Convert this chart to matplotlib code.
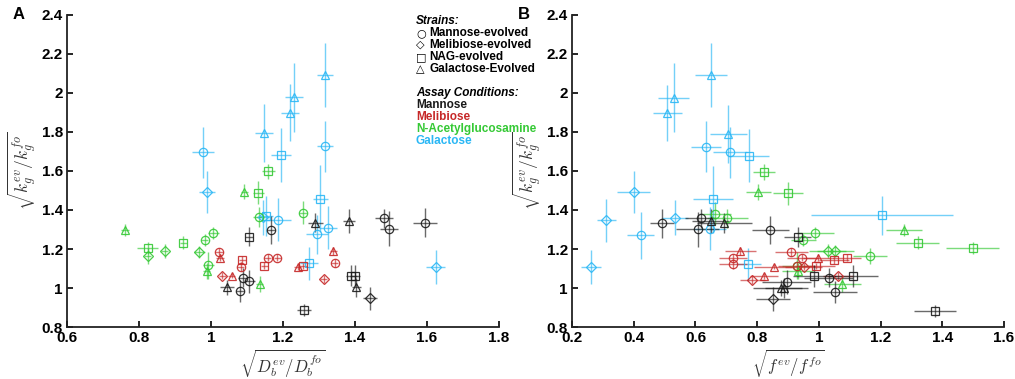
import matplotlib

matplotlib.use("Agg")
import matplotlib.pyplot as plt
from matplotlib.colors import to_rgba

plt.rcParams["font.family"] = ["Liberation Sans", "DejaVu Sans"]
plt.rcParams["mathtext.fontset"] = "cm"

# (strain, x, y, xerr, yerr); strain: M=mannose, L=melibiose, N=NAG, G=galactose evolved
A_GAL = [
    ("M", 0.977, 1.696, 0.030, 0.130), ("L", 0.988, 1.492, 0.022, 0.110),
    ("G", 1.147, 1.795, 0.025, 0.147), ("G", 1.219, 1.898, 0.025, 0.145),
    ("G", 1.231, 1.977, 0.025, 0.177), ("G", 1.317, 2.093, 0.022, 0.164),
    ("M", 1.317, 1.727, 0.022, 0.130), ("N", 1.194, 1.681, 0.027, 0.137),
    ("N", 1.304, 1.458, 0.022, 0.170), ("N", 1.152, 1.369, 0.020, 0.100),
    ("L", 1.145, 1.362, 0.020, 0.090), ("M", 1.187, 1.349, 0.035, 0.110),
    ("M", 1.294, 1.275, 0.030, 0.100), ("M", 1.326, 1.310, 0.025, 0.110),
    ("N", 1.273, 1.126, 0.025, 0.085), ("L", 1.624, 1.110, 0.026, 0.087),
]
A_NAG = [
    ("G", 0.761, 1.297, 0.010, 0.030), ("N", 0.824, 1.204, 0.030, 0.030),
    ("L", 0.824, 1.165, 0.010, 0.040), ("L", 0.871, 1.189, 0.010, 0.035),
    ("N", 0.923, 1.233, 0.010, 0.035), ("L", 0.967, 1.185, 0.015, 0.030),
    ("M", 0.983, 1.245, 0.010, 0.030), ("M", 1.006, 1.281, 0.015, 0.030),
    ("M", 0.992, 1.117, 0.015, 0.070), ("G", 0.988, 1.088, 0.010, 0.040),
    ("G", 1.092, 1.494, 0.010, 0.040), ("N", 1.131, 1.489, 0.015, 0.060),
    ("N", 1.159, 1.598, 0.018, 0.040), ("M", 1.133, 1.364, 0.015, 0.050),
    ("M", 1.256, 1.386, 0.012, 0.060), ("G", 1.135, 1.020, 0.010, 0.040),
]
A_MEL = [
    ("M", 1.022, 1.187, 0.010, 0.020), ("G", 1.025, 1.156, 0.012, 0.020),
    ("N", 1.087, 1.144, 0.010, 0.020), ("M", 1.083, 1.110, 0.010, 0.025),
    ("L", 1.031, 1.064, 0.010, 0.020), ("G", 1.058, 1.064, 0.010, 0.015),
    ("N", 1.148, 1.115, 0.010, 0.020), ("M", 1.158, 1.156, 0.010, 0.020),
    ("M", 1.184, 1.156, 0.010, 0.020), ("G", 1.241, 1.108, 0.010, 0.015),
    ("N", 1.256, 1.113, 0.010, 0.015), ("L", 1.313, 1.047, 0.010, 0.020),
    ("G", 1.340, 1.190, 0.010, 0.020), ("M", 1.344, 1.127, 0.010, 0.020),
]
A_MAN = [
    ("N", 1.106, 1.264, 0.012, 0.050), ("M", 1.167, 1.297, 0.012, 0.070),
    ("G", 1.290, 1.335, 0.020, 0.050), ("G", 1.384, 1.343, 0.017, 0.063),
    ("M", 1.481, 1.357, 0.025, 0.050), ("M", 1.494, 1.305, 0.025, 0.090),
    ("M", 1.595, 1.335, 0.033, 0.075), ("M", 1.088, 1.054, 0.012, 0.050),
    ("G", 1.045, 1.003, 0.020, 0.040), ("M", 1.081, 0.983, 0.012, 0.057),
    ("M", 1.106, 1.034, 0.015, 0.060), ("N", 1.390, 1.064, 0.015, 0.056),
    ("N", 1.400, 1.064, 0.015, 0.056), ("G", 1.404, 1.003, 0.012, 0.050),
    ("L", 1.441, 0.947, 0.020, 0.060), ("N", 1.259, 0.889, 0.020, 0.030),
]

B_GAL = [
    ("G", 0.650, 2.090, 0.052, 0.164), ("G", 0.529, 1.976, 0.049, 0.177),
    ("G", 0.509, 1.896, 0.046, 0.145), ("G", 0.706, 1.790, 0.060, 0.147),
    ("M", 0.634, 1.725, 0.050, 0.130), ("M", 0.711, 1.695, 0.055, 0.130),
    ("N", 0.773, 1.678, 0.065, 0.137), ("L", 0.400, 1.492, 0.054, 0.110),
    ("N", 0.657, 1.454, 0.065, 0.170), ("N", 1.203, 1.373, 0.230, 0.100),
    ("L", 0.533, 1.361, 0.043, 0.090), ("L", 0.311, 1.347, 0.030, 0.110),
    ("M", 0.646, 1.305, 0.052, 0.110), ("M", 0.422, 1.270, 0.045, 0.120),
    ("N", 0.771, 1.122, 0.040, 0.085), ("L", 0.261, 1.108, 0.032, 0.087),
]
B_NAG = [
    ("N", 0.823, 1.596, 0.036, 0.040), ("N", 0.900, 1.485, 0.050, 0.060),
    ("G", 0.804, 1.492, 0.040, 0.040), ("M", 0.664, 1.381, 0.050, 0.060),
    ("M", 0.703, 1.357, 0.067, 0.050), ("G", 1.275, 1.296, 0.058, 0.030),
    ("M", 0.988, 1.281, 0.060, 0.030), ("M", 0.950, 1.245, 0.040, 0.030),
    ("N", 1.320, 1.233, 0.070, 0.035), ("N", 1.498, 1.204, 0.085, 0.030),
    ("L", 1.028, 1.190, 0.060, 0.035), ("L", 1.053, 1.190, 0.060, 0.030),
    ("M", 1.165, 1.164, 0.055, 0.040), ("M", 0.930, 1.114, 0.050, 0.070),
    ("G", 0.931, 1.088, 0.050, 0.040), ("G", 1.075, 1.020, 0.060, 0.040),
]
B_MEL = [
    ("G", 0.745, 1.190, 0.050, 0.020), ("M", 0.722, 1.156, 0.045, 0.020),
    ("M", 0.722, 1.122, 0.045, 0.025), ("L", 0.784, 1.042, 0.040, 0.020),
    ("G", 0.823, 1.062, 0.045, 0.015), ("M", 0.911, 1.185, 0.054, 0.020),
    ("M", 0.946, 1.156, 0.050, 0.020), ("G", 0.998, 1.156, 0.050, 0.020),
    ("N", 1.049, 1.144, 0.050, 0.020), ("N", 1.092, 1.156, 0.045, 0.020),
    ("G", 0.854, 1.110, 0.065, 0.015), ("M", 0.928, 1.113, 0.060, 0.020),
    ("L", 0.951, 1.110, 0.060, 0.020), ("N", 0.992, 1.113, 0.060, 0.015),
    ("L", 1.062, 1.062, 0.050, 0.020),
]
B_MAN = [
    ("M", 0.491, 1.332, 0.040, 0.075), ("M", 0.607, 1.301, 0.070, 0.090),
    ("M", 0.617, 1.357, 0.050, 0.050), ("G", 0.649, 1.343, 0.060, 0.063),
    ("G", 0.694, 1.332, 0.088, 0.050), ("M", 0.843, 1.297, 0.060, 0.070),
    ("N", 0.931, 1.262, 0.043, 0.050), ("N", 0.985, 1.062, 0.070, 0.056),
    ("M", 1.032, 1.054, 0.080, 0.050), ("N", 1.111, 1.062, 0.080, 0.056),
    ("M", 0.895, 1.032, 0.080, 0.060), ("G", 0.876, 1.000, 0.090, 0.040),
    ("G", 0.886, 1.000, 0.060, 0.050), ("M", 1.052, 0.980, 0.070, 0.057),
    ("L", 0.852, 0.943, 0.055, 0.060), ("N", 1.376, 0.883, 0.067, 0.030),
]

MARKERS = {"M": ("o", 6.0), "L": ("D", 4.6), "N": ("s", 5.2), "G": ("^", 6.2)}
COLORS = {"man": "#1a1a1a", "mel": "#c62828", "nag": "#35c935", "gal": "#2ab7f5"}


def draw_panel(ax, groups, xlim, xticks, xlabel, letter):
    for cond, pts in groups:
        c = COLORS[cond]
        for strain, x, y, xe, ye in pts:
            mk, ms = MARKERS[strain]
            ax.errorbar(x, y, xerr=xe, yerr=ye, fmt=mk, ms=ms, mfc="none",
                        mec=to_rgba(c, 0.9), mew=0.9, ecolor=to_rgba(c, 0.65),
                        elinewidth=1.0, capsize=0)
    ax.set_xlim(*xlim)
    ax.set_ylim(0.8, 2.4)
    ax.set_xticks(xticks)
    ax.set_xticklabels([f"{t:g}" for t in xticks])
    ax.set_yticks([0.8, 1, 1.2, 1.4, 1.6, 1.8, 2, 2.2, 2.4])
    ax.set_yticklabels(["0.8", "1", "1.2", "1.4", "1.6", "1.8", "2", "2.2", "2.4"])
    for side in ("top", "right"):
        ax.spines[side].set_visible(False)
    for side in ("left", "bottom"):
        ax.spines[side].set_linewidth(1.3)
        ax.spines[side].set_color("#222222")
    ax.tick_params(direction="in", length=4, width=1.2, labelsize=11, pad=3)
    for lab in ax.get_xticklabels() + ax.get_yticklabels():
        lab.set_fontweight("bold")
    ax.set_xlabel(xlabel, fontsize=12, color="#333333", labelpad=1)
    ax.set_ylabel(r"$\sqrt{k_g^{ev}/k_g^{fo}}$", fontsize=12.5, color="#333333", labelpad=2)
    ax.text(-0.125, 1.0, letter, transform=ax.transAxes, fontsize=12, fontweight="bold",
            ha="left", va="center")


fig = plt.figure(figsize=(10.15, 3.79), dpi=100)
axA = fig.add_axes([0.066, 0.137, 0.4256, 0.824])
axB = fig.add_axes([0.5636, 0.137, 0.4256, 0.824])

draw_panel(axA, [("gal", A_GAL), ("nag", A_NAG), ("mel", A_MEL), ("man", A_MAN)],
           (0.6, 1.8), [0.6, 0.8, 1, 1.2, 1.4, 1.6, 1.8],
           r"$\sqrt{D_b^{ev}/D_b^{fo}}$", "A")
draw_panel(axB, [("gal", B_GAL), ("nag", B_NAG), ("mel", B_MEL), ("man", B_MAN)],
           (0.2, 1.6), [0.2, 0.4, 0.6, 0.8, 1, 1.2, 1.4, 1.6],
           r"$\sqrt{f^{ev}/f^{fo}}$", "B")

# legend text block
lx, ly, dy = 416 / 1015, 1 - 21 / 379, 12 / 379
fig.text(lx, ly, "Strains:", fontsize=8.5, fontweight="bold", style="italic", va="center")
strain_rows = [("○", "Mannose-evolved"), ("◇", "Melibiose-evolved"),
               ("□", "NAG-evolved"), ("△", "Galactose-Evolved")]
for i, (sym, name) in enumerate(strain_rows):
    fig.text(lx, ly - (i + 1) * dy, sym, fontsize=8, va="center", family="DejaVu Sans")
    fig.text(lx + 13 / 1015, ly - (i + 1) * dy, name, fontsize=8.5, fontweight="bold",
             va="center")
fig.text(lx, ly - 6 * dy, "Assay Conditions:", fontsize=8.5, fontweight="bold", style="italic",
         va="center")
cond_rows = [("Mannose", "man"), ("Melibiose", "mel"), ("N-Acetylglucosamine", "nag"),
             ("Galactose", "gal")]
for i, (name, key) in enumerate(cond_rows):
    fig.text(lx, ly - (i + 7) * dy, name, fontsize=8.5, fontweight="bold", va="center",
             color=COLORS[key])

fig.savefig("out.png", dpi=100)
